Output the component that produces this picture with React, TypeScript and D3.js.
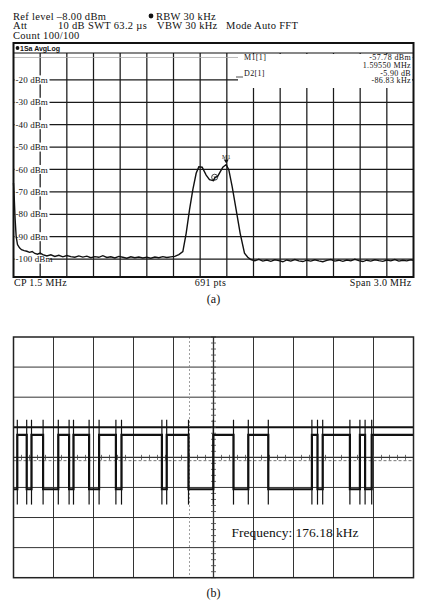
import React from 'react';
import * as d3 from 'd3';

// ---- panel (a): spectrum trace (MHz / dBm)
const specFreq = [
  0, 0.005, 0.012, 0.02, 0.03, 0.045, 0.06, 0.08, 0.1, 0.12, 0.14, 0.16, 0.18, 0.2, 0.22, 0.25,
  0.28, 0.31, 0.34, 0.37, 0.4, 0.43, 0.46, 0.49, 0.52, 0.55, 0.58, 0.61, 0.64, 0.67, 0.7, 0.73,
  0.76, 0.79, 0.82, 0.85, 0.88, 0.91, 0.94, 0.97, 1.0, 1.03, 1.06, 1.09, 1.12, 1.15, 1.18, 1.21,
  1.24, 1.27, 1.295, 1.32, 1.345, 1.37, 1.39, 1.415, 1.445, 1.47, 1.5, 1.509, 1.532, 1.57, 1.5955,
  1.615, 1.64, 1.67, 1.7, 1.7325, 1.757, 1.78, 1.81, 1.84, 1.87, 1.9, 1.93, 1.96, 1.99, 2.02, 2.05,
  2.08, 2.11, 2.14, 2.17, 2.2, 2.23, 2.26, 2.29, 2.32, 2.35, 2.38, 2.41, 2.44, 2.47, 2.5, 2.53,
  2.56, 2.59, 2.62, 2.65, 2.68, 2.71, 2.74, 2.77, 2.8, 2.83, 2.86, 2.89, 2.92, 2.95, 2.98, 3.0,
];
const specLevel = [
  -66, -72, -82, -90, -93.5, -95, -95.8, -96.2, -96.5, -97, -96.6, -97.5, -97.8, -97.3, -98, -98.6,
  -98.1, -98.8, -98.3, -99, -98.4, -98.9, -99.2, -98.6, -99.1, -98.7, -99.4, -98.9, -99.2, -98.5, -99.3, -99,
  -99.5, -98.8, -99.2, -99.6, -99, -99.4, -99.1, -99.5, -99.2, -99.6, -99.1, -99.4, -98.9, -99.3, -99, -98.8,
  -98, -96.7, -88.5, -78, -69, -61.7, -58.8, -59, -62.5, -64.5, -65, -63.7, -63, -59, -57.78,
  -60.2, -67.7, -78, -88.5, -97.4, -99.2, -100.2, -100.8, -100.1, -100.9, -100.4, -101, -100.3, -100.7, -101.2, -100.4,
  -100.9, -100.2, -100.8, -101.1, -100.5, -100.9, -100.3, -100.8, -101.2, -100.6, -100.2, -100.9, -100.5, -101, -100.4, -100.8,
  -100.1, -100.7, -101.1, -100.5, -100.9, -100.3, -100.7, -101, -100.4, -100.8, -100.2, -100.9, -100.5, -100.8, -100.3, -100.6,
];
const levelTicks = [-20, -30, -40, -50, -60, -70, -80, -90, -100];
const gridLevels = [-10, -20, -30, -40, -50, -60, -70, -80, -90, -100];
const m1 = { f: 1.5955, dbm: -57.78 };
const d2 = { f: 1.50867, dbm: -63.68 };
const markerLabels = ['-57.78 dBm', '1.59550 MHz', '-5.90 dB', '-86.83 kHz'];

// ---- panel (b): digital waveform, edge times in divisions
const edgeTimes = [
  0.095, 0.33, 0.45, 0.74, 1.12, 1.39, 1.5, 1.89, 2.14, 2.56, 2.7, 3.71, 3.83, 4.375, 4.995,
  5.5, 5.87, 6.37, 7.46, 7.6, 7.73, 8.41, 8.66, 8.79, 8.955,
];
const highLevel = 0.75;
const lowLevel = -1.06;

const serif = 'Liberation Serif, Times New Roman, serif';

export default function App() {
  // panel (a) scales
  const xA = d3.scaleLinear().domain([0, 3]).range([13.5, 413.5]);
  const yA = d3.scaleLinear().domain([-108, -8]).range([277, 53]);
  const line = d3.line<number>()
    .x((_, i) => xA(specFreq[i]))
    .y(d => yA(d));

  // panel (b) scales
  const xB = d3.scaleLinear().domain([0, 10]).range([13.5, 413.5]);
  const yB = d3.scaleLinear().domain([-4, 4]).range([577.7, 337]);
  const steps: { t: number; v: number }[] = [{ t: 0, v: lowLevel }];
  edgeTimes.forEach((t, i) => steps.push({ t, v: i % 2 === 0 ? highLevel : lowLevel }));
  steps.push({ t: 10, v: steps[steps.length - 1].v });
  const step = d3.line<{ t: number; v: number }>()
    .x(d => xB(d.t))
    .y(d => yB(d.v))
    .curve(d3.curveStepAfter);

  const vDivs = d3.range(1, 10);
  const hDivs = d3.range(-3, 4);
  const minorX = d3.range(0, 10.01, 0.2);
  const minorY = d3.range(-4, 4.01, 0.2);

  return (
    <svg width={447} height={608} style={{ position: 'absolute', left: 0, top: 0, background: '#fff' }}
      fontFamily={serif}>
      {/* ===== header text ===== */}
      <g fontSize={10.5} letterSpacing={0.3} fill="#111">
        <text x={13} y={19.5}>Ref level –8.00 dBm</text>
        <circle cx={151} cy={16} r={2.4} fill="#111" />
        <text x={156} y={19.5}>RBW 30 kHz</text>
        <text x={13} y={29}>Att</text>
        <text x={58} y={29}>10 dB</text>
        <text x={88} y={29}>SWT 63.2 µs</text>
        <text x={157} y={29}>VBW 30 kHz</text>
        <text x={226} y={29}>Mode Auto FFT</text>
        <text x={13} y={38.5}>Count 100/100</text>
      </g>

      {/* ===== panel (a) ===== */}
      <g>
        {xA.ticks(10).slice(1, -1).map(f => (
          <line key={f} x1={xA(f)} x2={xA(f)} y1={53} y2={277} stroke="#1a1a1a" strokeWidth={1.25} />
        ))}
        {gridLevels.map(v => (
          <line key={v} x1={13.5} x2={413.5} y1={yA(v)} y2={yA(v)}
            stroke={v === -10 ? '#aaa' : '#1a1a1a'} strokeWidth={v === -10 ? 0.8 : 1.25} />
        ))}
        {/* marker table area */}
        <rect x={238} y={54} width={174} height={34} fill="#fff" />
        <g fontSize={8} letterSpacing={0.35} fill="#111">
          <text x={244} y={60}>M1[1]</text>
          <text x={244} y={75.5}>D2[1]</text>
          <line x1={236} x2={243} y1={77} y2={77} stroke="#222" strokeWidth={0.8} />
          {markerLabels.map((s, i) => (
            <text key={s} x={411} y={60 + i * 7.8} textAnchor="end">{s}</text>
          ))}
        </g>
        {levelTicks.map(v => (
          <g key={v}>
            <rect x={14.5} y={yA(v) - 4.5} width={35} height={9} fill="#fff" />
            <text x={15.5} y={yA(v) + 3.2} fontSize={9} letterSpacing={0.1} fill="#111">{`${v} dBm`}</text>
          </g>
        ))}
        <path d={line(specLevel) || ''} fill="none" stroke="#111" strokeWidth={1.4} />
        {/* markers */}
        <path d={`M${xA(m1.f) - 2.5},${yA(m1.dbm) - 5} h5 l-2.5,4 z`} fill="#111" />
        <text x={xA(m1.f)} y={yA(m1.dbm) - 6} fontSize={6} textAnchor="middle" fill="#111">M1</text>
        <circle cx={xA(d2.f)} cy={yA(d2.dbm) - 0.5} r={3} fill="none" stroke="#111" strokeWidth={0.8} />
        <text x={xA(d2.f)} y={yA(d2.dbm) + 1.8} fontSize={5.5} textAnchor="middle" fill="#111">2</text>
        {/* frame + header */}
        <rect x={13.5} y={43} width={400} height={234} fill="none" stroke="#111" strokeWidth={2} />
        <line x1={13.5} x2={413.5} y1={53} y2={53} stroke="#111" strokeWidth={1.2} />
        <circle cx={17.5} cy={48} r={1.9} fill="#111" />
        <text x={20} y={50.5} fontSize={7} fontFamily="Liberation Sans, Arial, sans-serif" fontWeight="bold"
          fill="#111">1Sa AvgLog</text>
        <g fontSize={10} letterSpacing={0.3} fill="#111">
          <text x={14} y={286}>CP 1.5 MHz</text>
          <text x={210.5} y={286} textAnchor="middle">691 pts</text>
          <text x={411.5} y={286} textAnchor="end">Span 3.0 MHz</text>
        </g>
        <text x={213.5} y={303} fontSize={12} textAnchor="middle" fill="#111">(a)</text>
      </g>

      {/* ===== panel (b) ===== */}
      <g>
        {vDivs.map(d => (
          <line key={d} x1={xB(d)} x2={xB(d)} y1={337} y2={577.7} stroke="#333"
            strokeWidth={d === 5 ? 1.3 : 1} />
        ))}
        {hDivs.map(d => (
          <line key={d} x1={13.5} x2={413.5} y1={yB(d)} y2={yB(d)} stroke={d === 1 ? '#111' : '#333'}
            strokeWidth={d === 1 ? 2 : d === 0 ? 1.4 : 1} />
        ))}
        {minorX.map(t => (
          <line key={t} x1={xB(t)} x2={xB(t)} y1={yB(0) - 2.5} y2={yB(0) + 2.5} stroke="#444" strokeWidth={0.8} />
        ))}
        {minorY.map(v => (
          <line key={v} x1={xB(5) - 2.5} x2={xB(5) + 2.5} y1={yB(v)} y2={yB(v)} stroke="#444" strokeWidth={0.8} />
        ))}
        <line x1={13.5} x2={413.5} y1={yB(-0.11)} y2={yB(-0.11)} stroke="#666" strokeWidth={0.9}
          strokeDasharray="3,2" />
        <line x1={xB(4.4)} x2={xB(4.4)} y1={337} y2={577.7} stroke="#888" strokeWidth={0.8}
          strokeDasharray="2,2" />
        {edgeTimes.map(t => (
          <line key={t} x1={xB(t)} x2={xB(t)} y1={yB(1.25)} y2={yB(-1.57)} stroke="#111" strokeWidth={1.2} />
        ))}
        <path d={step(steps) || ''} fill="none" stroke="#111" strokeWidth={2.2} />
        <rect x={13.5} y={337} width={400} height={240.7} fill="none" stroke="#222" strokeWidth={1.5} />
        <text x={231.5} y={537} fontSize={13.5} fill="#111">Frequency: 176.18 kHz</text>
        <text x={213.5} y={597} fontSize={12} textAnchor="middle" fill="#111">(b)</text>
      </g>
    </svg>
  );
}
